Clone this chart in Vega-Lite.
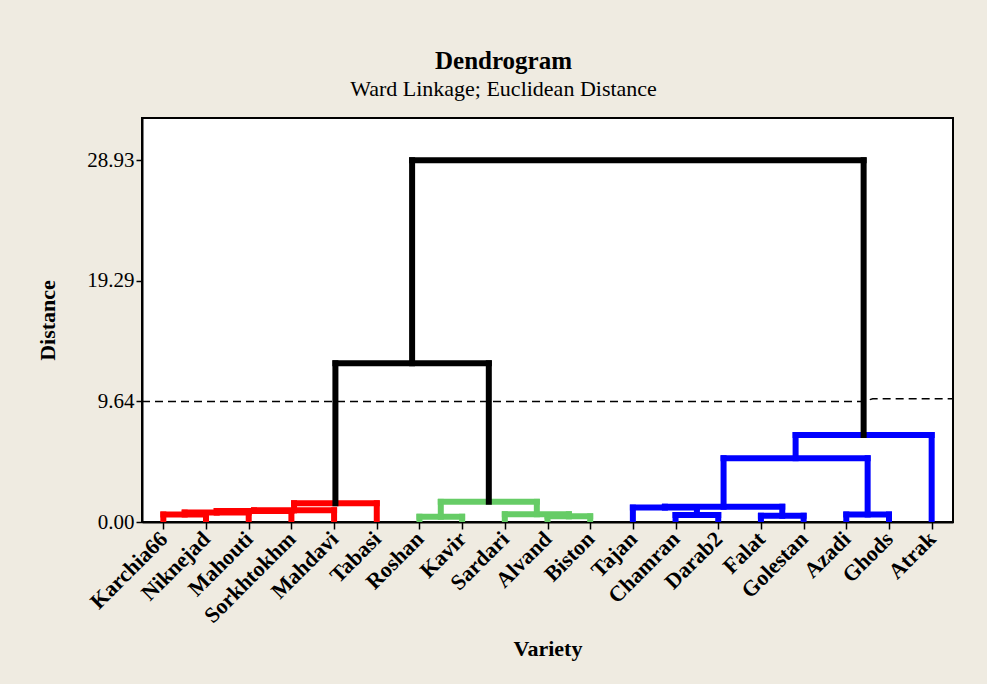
{
  "$schema": "https://vega.github.io/schema/vega-lite/v6.json",
  "width": 811,
  "height": 404,
  "autosize": {"type": "none"},
  "padding": {"left": 142, "top": 118, "right": 34, "bottom": 162},
  "background": "#EFEBE1",
  "config": {
    "view": {"fill": "white", "stroke": "black", "strokeWidth": 2},
    "font": "Liberation Serif"
  },
  "title": {
    "text": "Dendrogram",
    "subtitle": "Ward Linkage; Euclidean Distance",
    "font": "Liberation Serif",
    "fontSize": 25,
    "fontWeight": "bold",
    "color": "black",
    "subtitleFont": "Liberation Serif",
    "subtitleFontSize": 22,
    "subtitleColor": "black",
    "subtitlePadding": 5,
    "anchor": "middle",
    "dx": -44,
    "offset": 18
  },
  "datasets": {
    "segments": [
      {"x": 0, "x2": 0, "y": 0, "y2": 0.6, "cluster": "1"},
      {"x": 0, "x2": 1, "y": 0.6, "y2": 0.6, "cluster": "1"},
      {"x": 1, "x2": 1, "y": 0, "y2": 0.6, "cluster": "1"},
      {"x": 0.5, "x2": 0.5, "y": 0.6, "y2": 0.75, "cluster": "1"},
      {"x": 0.5, "x2": 2, "y": 0.75, "y2": 0.75, "cluster": "1"},
      {"x": 2, "x2": 2, "y": 0, "y2": 0.75, "cluster": "1"},
      {"x": 1.25, "x2": 1.25, "y": 0.75, "y2": 0.88, "cluster": "1"},
      {"x": 1.25, "x2": 3, "y": 0.88, "y2": 0.88, "cluster": "1"},
      {"x": 3, "x2": 3, "y": 0, "y2": 0.88, "cluster": "1"},
      {"x": 2.125, "x2": 2.125, "y": 0.88, "y2": 0.93, "cluster": "1"},
      {"x": 2.125, "x2": 4, "y": 0.93, "y2": 0.93, "cluster": "1"},
      {"x": 4, "x2": 4, "y": 0, "y2": 0.93, "cluster": "1"},
      {"x": 3.0625, "x2": 3.0625, "y": 0.93, "y2": 1.5, "cluster": "1"},
      {"x": 3.0625, "x2": 5, "y": 1.5, "y2": 1.5, "cluster": "1"},
      {"x": 5, "x2": 5, "y": 0, "y2": 1.5, "cluster": "1"},

      {"x": 6, "x2": 6, "y": 0, "y2": 0.42, "cluster": "2"},
      {"x": 6, "x2": 7, "y": 0.42, "y2": 0.42, "cluster": "2"},
      {"x": 7, "x2": 7, "y": 0, "y2": 0.42, "cluster": "2"},
      {"x": 9, "x2": 9, "y": 0, "y2": 0.45, "cluster": "2"},
      {"x": 9, "x2": 10, "y": 0.45, "y2": 0.45, "cluster": "2"},
      {"x": 10, "x2": 10, "y": 0, "y2": 0.45, "cluster": "2"},
      {"x": 8, "x2": 8, "y": 0, "y2": 0.62, "cluster": "2"},
      {"x": 8, "x2": 9.5, "y": 0.62, "y2": 0.62, "cluster": "2"},
      {"x": 9.5, "x2": 9.5, "y": 0.45, "y2": 0.62, "cluster": "2"},
      {"x": 6.5, "x2": 6.5, "y": 0.42, "y2": 1.61, "cluster": "2"},
      {"x": 6.5, "x2": 8.75, "y": 1.61, "y2": 1.61, "cluster": "2"},
      {"x": 8.75, "x2": 8.75, "y": 0.62, "y2": 1.61, "cluster": "2"},

      {"x": 12, "x2": 12, "y": 0, "y2": 0.56, "cluster": "3"},
      {"x": 12, "x2": 13, "y": 0.56, "y2": 0.56, "cluster": "3"},
      {"x": 13, "x2": 13, "y": 0, "y2": 0.56, "cluster": "3"},
      {"x": 11, "x2": 11, "y": 0, "y2": 1.15, "cluster": "3"},
      {"x": 11, "x2": 12.5, "y": 1.15, "y2": 1.15, "cluster": "3"},
      {"x": 12.5, "x2": 12.5, "y": 0.56, "y2": 1.15, "cluster": "3"},
      {"x": 14, "x2": 14, "y": 0, "y2": 0.5, "cluster": "3"},
      {"x": 14, "x2": 15, "y": 0.5, "y2": 0.5, "cluster": "3"},
      {"x": 15, "x2": 15, "y": 0, "y2": 0.5, "cluster": "3"},
      {"x": 11.75, "x2": 11.75, "y": 1.15, "y2": 1.22, "cluster": "3"},
      {"x": 11.75, "x2": 14.5, "y": 1.22, "y2": 1.22, "cluster": "3"},
      {"x": 14.5, "x2": 14.5, "y": 0.5, "y2": 1.22, "cluster": "3"},
      {"x": 16, "x2": 16, "y": 0, "y2": 0.6, "cluster": "3"},
      {"x": 16, "x2": 17, "y": 0.6, "y2": 0.6, "cluster": "3"},
      {"x": 17, "x2": 17, "y": 0, "y2": 0.6, "cluster": "3"},
      {"x": 13.125, "x2": 13.125, "y": 1.22, "y2": 5.1, "cluster": "3"},
      {"x": 13.125, "x2": 16.5, "y": 5.1, "y2": 5.1, "cluster": "3"},
      {"x": 16.5, "x2": 16.5, "y": 0.6, "y2": 5.1, "cluster": "3"},
      {"x": 14.8125, "x2": 14.8125, "y": 5.1, "y2": 6.95, "cluster": "3"},
      {"x": 14.8125, "x2": 18, "y": 6.95, "y2": 6.95, "cluster": "3"},
      {"x": 18, "x2": 18, "y": 0, "y2": 6.95, "cluster": "3"},

      {"x": 4.03125, "x2": 4.03125, "y": 1.5, "y2": 12.7, "cluster": "link"},
      {"x": 4.03125, "x2": 7.625, "y": 12.7, "y2": 12.7, "cluster": "link"},
      {"x": 7.625, "x2": 7.625, "y": 1.61, "y2": 12.7, "cluster": "link"},
      {"x": 5.828, "x2": 5.828, "y": 12.7, "y2": 28.93, "cluster": "link"},
      {"x": 5.828, "x2": 16.40625, "y": 28.93, "y2": 28.93, "cluster": "link"},
      {"x": 16.40625, "x2": 16.40625, "y": 6.95, "y2": 28.93, "cluster": "link"}
    ],
    "cutline": [
      {"x": -0.5, "y": 9.64},
      {"x": 16.39, "y": 9.64},
      {"x": 16.62, "y": 9.85},
      {"x": 18.5, "y": 9.85}
    ]
  },
  "encoding": {
    "x": {
      "field": "x",
      "type": "quantitative",
      "scale": {"domain": [-0.5, 18.5], "nice": false, "zero": false},
      "axis": {
        "title": "Variety",
        "values": [0, 1, 2, 3, 4, 5, 6, 7, 8, 9, 10, 11, 12, 13, 14, 15, 16, 17, 18],
        "labelExpr": "['Karchia66','Niknejad','Mahouti','Sorkhtokhm','Mahdavi','Tabasi','Roshan','Kavir','Sardari','Alvand','Biston','Tajan','Chamran','Darab2','Falat','Golestan','Azadi','Ghods','Atrak'][datum.value]",
        "labelAngle": -45,
        "labelAlign": "right",
        "labelBaseline": "middle",
        "labelFont": "Liberation Serif",
        "labelFontWeight": "bold",
        "labelFontSize": 22,
        "labelColor": "black",
        "labelPadding": 6,
        "labelOverlap": false,
        "labelFlush": false,
        "tickColor": "black",
        "tickSize": 7,
        "tickWidth": 1.5,
        "domainColor": "black",
        "domainWidth": 2,
        "grid": false,
        "titleFont": "Liberation Serif",
        "titleFontSize": 22,
        "titleFontWeight": "bold",
        "titleColor": "black",
        "titlePadding": 12
      }
    },
    "y": {
      "field": "y",
      "type": "quantitative",
      "scale": {"domain": [0, 32.3], "nice": false, "zero": true},
      "axis": {
        "title": "Distance",
        "values": [0, 9.64, 19.29, 28.93],
        "format": ".2f",
        "labelFont": "Liberation Serif",
        "labelFontSize": 21,
        "labelColor": "black",
        "labelPadding": 2,
        "tickColor": "black",
        "tickSize": 6,
        "tickWidth": 1.5,
        "domainColor": "black",
        "domainWidth": 2,
        "grid": false,
        "titleFont": "Liberation Serif",
        "titleFontSize": 22,
        "titleFontWeight": "bold",
        "titleColor": "black",
        "titlePadding": 27
      }
    }
  },
  "layer": [
    {
      "data": {"name": "cutline"},
      "mark": {"type": "line", "color": "black", "strokeWidth": 1.5, "strokeDash": [8, 5], "clip": true}
    },
    {
      "data": {"name": "segments"},
      "mark": {"type": "rule", "strokeWidth": 6, "strokeCap": "square", "clip": true},
      "encoding": {
        "x2": {"field": "x2"},
        "y2": {"field": "y2"},
        "color": {
          "field": "cluster",
          "type": "nominal",
          "scale": {"domain": ["1", "2", "3", "link"], "range": ["#FF0000", "#66CC66", "#0000FF", "#000000"]},
          "legend": null
        }
      }
    }
  ]
}
